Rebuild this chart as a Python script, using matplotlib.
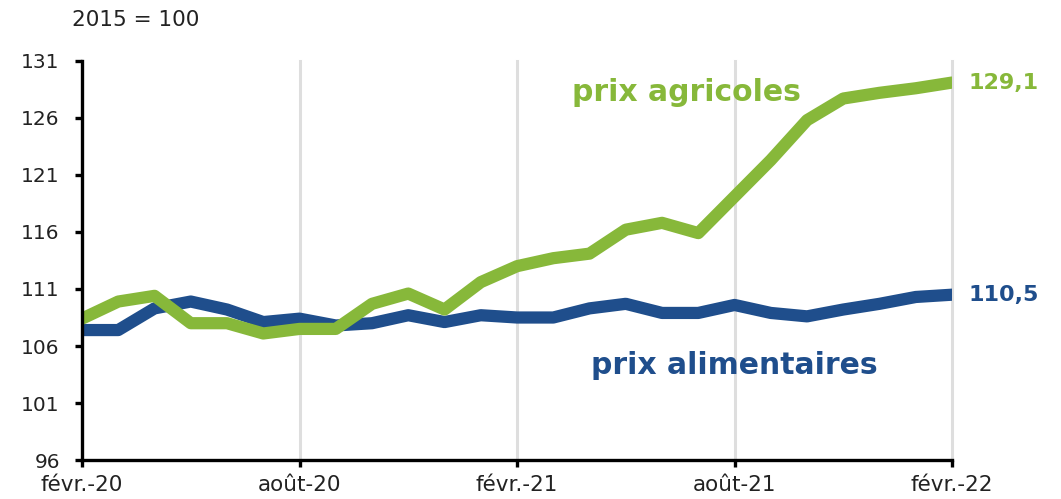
import matplotlib
matplotlib.use("Agg")
import matplotlib.pyplot as plt

# monthly series, févr.-20 .. févr.-22 (2015 = 100)
months = list(range(25))
prix_agricoles = [108.4, 109.9, 110.4, 108.0, 108.0, 107.1, 107.5, 107.5, 109.7, 110.6,
                  109.2, 111.6, 113.0, 113.7, 114.1, 116.2, 116.8, 115.9, 119.1, 122.3,
                  125.8, 127.7, 128.2, 128.6, 129.1]
prix_alimentaires = [107.4, 107.4, 109.3, 109.9, 109.2, 108.1, 108.4, 107.8, 108.0, 108.7,
                     108.1, 108.7, 108.5, 108.5, 109.3, 109.7, 108.9, 108.9, 109.6, 108.9,
                     108.6, 109.2, 109.7, 110.3, 110.5]
tick_pos = [0, 6, 12, 18, 24]
tick_labels = ["févr.-20", "août-20", "févr.-21", "août-21", "févr.-22"]
y_ticks = [96, 101, 106, 111, 116, 121, 126, 131]

green = "#87b83a"
blue = "#1f4e8c"

fig = plt.figure(figsize=(10.61, 4.99), dpi=100)
ax = fig.add_axes([0.0773, 0.078, 0.82, 0.80])

for x in tick_pos[1:]:
    ax.axvline(x, color="#dedede", lw=2.2, zorder=0, clip_on=False)

ax.plot(months, prix_alimentaires, color=blue, lw=8.8, solid_capstyle="round",
        solid_joinstyle="round", zorder=2)
ax.plot(months, prix_agricoles, color=green, lw=8.8, solid_capstyle="round",
        solid_joinstyle="round", zorder=3)

ax.set_xlim(0, 24)
ax.set_ylim(96, 131)
ax.set_xticks(tick_pos)
ax.set_xticklabels(tick_labels)
ax.set_yticks(y_ticks)

for s in ["top", "right"]:
    ax.spines[s].set_visible(False)
for s in ["left", "bottom"]:
    ax.spines[s].set_linewidth(2.4)
    ax.spines[s].set_color("black")
    ax.spines[s].set_zorder(4)

ax.tick_params(axis="y", length=5, width=2.4, pad=11, labelsize=14.5, colors="black")
ax.tick_params(axis="x", length=5, width=2.4, pad=6, labelsize=15.5, colors="black")
for lab in ax.get_xticklabels() + ax.get_yticklabels():
    lab.set_color("#222222")

# end-of-series values
ax.text(24.45, prix_agricoles[-1], "129,1", color=green, fontsize=16, fontweight="bold",
        va="center", ha="left", clip_on=False)
ax.text(24.45, prix_alimentaires[-1], "110,5", color=blue, fontsize=16, fontweight="bold",
        va="center", ha="left", clip_on=False)

# series names
ax.text(16.66, 128.2, "prix agricoles", color=green, fontsize=21.5, fontweight="bold",
        ha="center", va="center")
ax.text(18.0, 104.3, "prix alimentaires", color=blue, fontsize=21.5, fontweight="bold",
        ha="center", va="center")

fig.text(0.068, 0.96, "2015 = 100", fontsize=15.5, color="#222222", ha="left", va="center")

fig.savefig("out.png", dpi=100)
